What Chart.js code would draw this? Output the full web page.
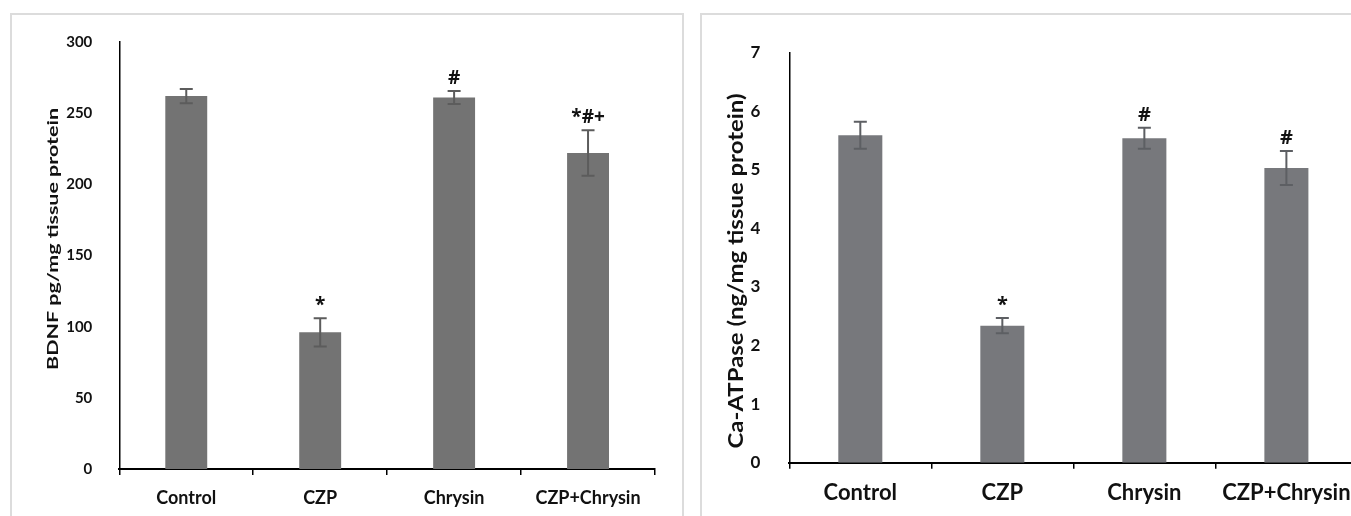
<!DOCTYPE html>
<html lang="en">
<head>
    <meta charset="UTF-8">
    <title>BDNF and Ca-ATPase</title>
    <style>
        body {
            margin: 0;
            width: 1351px;
            height: 516px;
            overflow: hidden;
            background: #fff;
            position: relative;
        }
        .panel {
            position: absolute;
            top: 13px;
            height: 560px;
            border: 2px solid #dcdcdc;
            box-sizing: border-box;
        }
        #panelLeft { left: 10px; width: 674px; }
        #panelRight { left: 700px; width: 700px; }
        canvas { position: absolute; top: 0; }
        #bdnfChart { left: 0; }
        #atpChart { left: 690px; }
    </style>
    <script src="https://cdn.jsdelivr.net/npm/chart.js"></script>
</head>
<body>
    <div class="panel" id="panelLeft"></div>
    <div class="panel" id="panelRight"></div>
    <canvas id="bdnfChart" width="680" height="516"></canvas>
    <canvas id="atpChart" width="680" height="516"></canvas>

    <script>
        // groups
        const groups = ['Control', 'CZP', 'Chrysin', 'CZP+Chrysin'];

        // BDNF (pg/mg tissue protein)
        const bdnfMean = [262, 96, 261, 222];
        const bdnfErr = [5, 10, 4.5, 16];
        const bdnfSig = ['', '*', '#', '*#+'];

        // Ca-ATPase (ng/mg tissue protein)
        const atpMean = [5.59, 2.34, 5.54, 5.03];
        const atpErr = [0.23, 0.13, 0.18, 0.29];
        const atpSig = ['', '*', '#', '#'];

        const FONT = 'Lato';

        // error bars + significance marks drawn from the y scale
        function errorPlugin(errors, marks, color, markSize) {
            return {
                id: 'errorBars',
                afterDatasetsDraw(chart) {
                    const ctx = chart.ctx;
                    const y = chart.scales.y;
                    const vals = chart.data.datasets[0].data;
                    const meta = chart.getDatasetMeta(0);
                    ctx.save();
                    ctx.strokeStyle = color;
                    ctx.lineWidth = 2;
                    meta.data.forEach(function(bar, i) {
                        const top = y.getPixelForValue(vals[i] + errors[i]);
                        const bot = y.getPixelForValue(vals[i] - errors[i]);
                        ctx.beginPath();
                        ctx.moveTo(bar.x, top);
                        ctx.lineTo(bar.x, bot);
                        ctx.moveTo(bar.x - 6.5, top);
                        ctx.lineTo(bar.x + 6.5, top);
                        ctx.moveTo(bar.x - 6.5, bot);
                        ctx.lineTo(bar.x + 6.5, bot);
                        ctx.stroke();
                        if (marks[i]) {
                            ctx.fillStyle = '#111';
                            ctx.font = 'bold ' + markSize + 'px "Open Sans"';
                            ctx.textAlign = 'center';
                            ctx.textBaseline = 'alphabetic';
                            ctx.fillText(marks[i], bar.x, top - 7);
                        }
                    });
                    ctx.restore();
                }
            };
        }

        // rotated y title, stretched along its length like the original figure
        function yTitlePlugin(text, cx, cy, size, length) {
            return {
                id: 'yTitle',
                afterDraw(chart) {
                    const ctx = chart.ctx;
                    ctx.save();
                    ctx.font = 'bold ' + size + 'px ' + FONT;
                    const k = length / ctx.measureText(text).width;
                    ctx.translate(cx, cy);
                    ctx.rotate(-Math.PI / 2);
                    ctx.scale(k, 1);
                    ctx.fillStyle = '#111';
                    ctx.textAlign = 'center';
                    ctx.textBaseline = 'middle';
                    ctx.fillText(text, 0, 0);
                    ctx.restore();
                }
            };
        }

        function makeChart(id, mean, cfg) {
            return new Chart(document.getElementById(id), {
                type: 'bar',
                data: {
                    labels: groups,
                    datasets: [{
                        data: mean,
                        backgroundColor: cfg.barColor,
                        borderWidth: 0,
                        categoryPercentage: 1,
                        barPercentage: cfg.barPct
                    }]
                },
                options: {
                    responsive: false,
                    animation: false,
                    layout: { padding: cfg.padding },
                    plugins: {
                        legend: { display: false },
                        tooltip: { enabled: false }
                    },
                    scales: {
                        x: {
                            afterFit: function(s) { s.height = cfg.xHeight; },
                            grid: {
                                offset: true,
                                drawOnChartArea: false,
                                drawTicks: true,
                                tickLength: 6,
                                color: '#000',
                                lineWidth: 1.5
                            },
                            border: { display: true, color: '#000', width: 2 },
                            ticks: {
                                padding: cfg.xPad,
                                color: '#111',
                                maxRotation: 0,
                                font: { family: FONT, size: cfg.xFont, weight: 'bold' }
                            }
                        },
                        y: {
                            min: 0,
                            max: cfg.max,
                            afterFit: function(s) { s.width = cfg.yWidth; },
                            grid: { display: false },
                            border: { display: true, color: '#000', width: 1.5 },
                            ticks: {
                                stepSize: cfg.step,
                                padding: cfg.yPad,
                                color: '#111',
                                font: { family: FONT, size: cfg.yFont, weight: 'bold' }
                            }
                        }
                    }
                },
                plugins: cfg.plugins
            });
        }

        makeChart('bdnfChart', bdnfMean, {
            barColor: '#737373',
            barPct: 0.313,
            padding: { top: 42, right: 25, left: 0, bottom: 0 },
            xHeight: 47,
            yWidth: 119.3,
            xPad: 12,
            yPad: 19,
            xFont: 18,
            yFont: 15,
            max: 300,
            step: 50,
            plugins: [
                errorPlugin(bdnfErr, bdnfSig, '#5c5c5c', 19),
                yTitlePlugin('BDNF pg/mg tissue protein', 53, 239, 15, 262)
            ]
        });

        makeChart('atpChart', atpMean, {
            barColor: '#77787c',
            barPct: 0.31,
            padding: { top: 52.7, right: 12.6, left: 0, bottom: 0 },
            xHeight: 53.3,
            yWidth: 99.3,
            xPad: 11,
            yPad: 21,
            xFont: 22,
            yFont: 17,
            max: 7,
            step: 1,
            plugins: [
                errorPlugin(atpErr, atpSig, '#5d5f63', 20),
                yTitlePlugin('Ca-ATPase (ng/mg tissue protein)', 46.7, 271, 20, 355)
            ]
        });
    </script>
</body>
</html>
